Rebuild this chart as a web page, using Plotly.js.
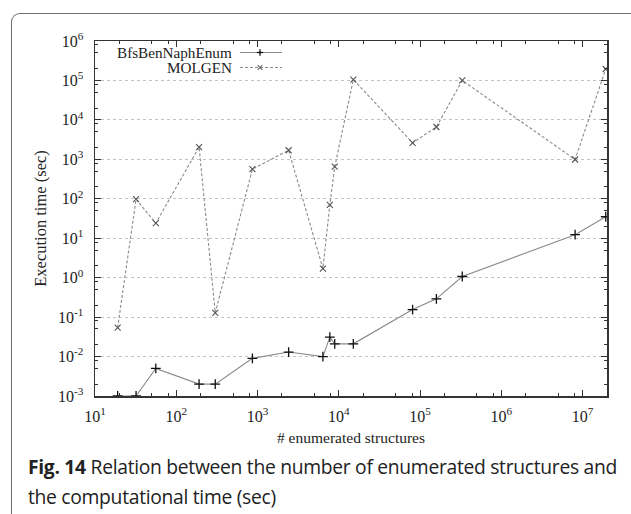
<!DOCTYPE html>
<html>
<head>
<meta charset="utf-8">
<script src="https://cdn.plot.ly/plotly-3.0.1.min.js"></script>
<style>
  html, body { margin:0; padding:0; background:#fff; overflow:hidden; }
  #wrap { position:relative; width:631px; height:514px; }
  #plot { position:absolute; left:0; top:0; width:631px; height:514px; }
  #frame { position:absolute; left:11px; top:13px; width:700px; height:600px;
           border-left:1.6px solid #6e6e6e; border-top:1.6px solid #6e6e6e;
           border-top-left-radius:9px; pointer-events:none; }
  #caption { position:absolute; left:28px; top:452px; width:610px;
             font-family:"Open Sans","Noto Sans",sans-serif; font-size:19.3px;
             line-height:30px; color:#222; letter-spacing:-0.3px; white-space:nowrap; }
  #caption b { font-weight:700; }
</style>
</head>
<body>
<div id="wrap">
  <div id="plot"></div>
  <div id="frame"></div>
  <div id="caption"><b>Fig. 14</b> Relation between the number of enumerated structures and<br>the computational time (sec)</div>
</div>
<script>
// ---- data ----
const structures = [19, 32, 56, 191, 302, 865, 2415, 6380, 7760, 8920, 15100, 81000, 159000, 331000, 8100000, 19300000];
const bfsTime    = [0.001, 0.001, 0.005, 0.002, 0.002, 0.009, 0.013, 0.010, 0.031, 0.021, 0.021, 0.155, 0.29, 1.07, 12.3, 35];
const molgenTime = [0.054, 98, 24, 2050, 0.128, 565, 1700, 1.7, 70, 650, 105000, 2630, 6600, 100000, 990, 195000];
const seriesNames = ["BfsBenNaphEnum", "MOLGEN"];
const xTickVals = [1e1, 1e2, 1e3, 1e4, 1e5, 1e6, 1e7];
const xTickText = ["10<sup>1</sup>", "10<sup>2</sup>", "10<sup>3</sup>", "10<sup>4</sup>", "10<sup>5</sup>", "10<sup>6</sup>", "10<sup>7</sup>"];
const yTickVals = [1e-3, 1e-2, 1e-1, 1e0, 1e1, 1e2, 1e3, 1e4, 1e5, 1e6];
const yTickText = ["10<sup>-3</sup>", "10<sup>-2</sup>", "10<sup>-1</sup>", "10<sup>0</sup>", "10<sup>1</sup>", "10<sup>2</sup>", "10<sup>3</sup>", "10<sup>4</sup>", "10<sup>5</sup>", "10<sup>6</sup>"];
const xTitle = "# enumerated structures";
const yTitle = "Execution time (sec)";

// minor tick positions (2, 5, 8 of each decade)
function minorVals(lo, hi) {
  const out = [];
  for (let e = lo; e < hi; e++) for (const m of [2, 5, 8]) out.push(m * Math.pow(10, e));
  return out;
}

const serif = "Liberation Serif, Times New Roman, serif";

const traces = [
  { x: structures, y: bfsTime, name: seriesNames[0], type: "scatter", mode: "lines+markers",
    line: { color: "#8a8a8a", width: 1.1 },
    marker: { symbol: "cross-thin", size: 7, color: "#111", line: { color: "#111", width: 1.3 } },
    showlegend: false },
  { x: structures, y: molgenTime, name: seriesNames[1], type: "scatter", mode: "lines+markers",
    line: { color: "#8a8a8a", width: 1.1, dash: "3px,2px" },
    marker: { symbol: "x-thin", size: 6, color: "#555", line: { color: "#555", width: 1.1 } },
    showlegend: false }
];

// plot area in pixels
const L = 95, R = 607, T = 41, B = 396;
const px2x = p => (p - L) / (R - L);
const px2y = p => (B - p) / (B - T);

// hand-drawn gnuplot-style legend (key): text right-aligned, sample to the right
const keyRows = [
  { name: seriesNames[0], py: 52.5, dash: "solid", sym: "plus",  col: "#111" },
  { name: seriesNames[1], py: 67.5, dash: "dot",   sym: "cross", col: "#666" }
];
const shapes = [];
const annotations = [];
keyRows.forEach(r => {
  annotations.push({ xref: "paper", yref: "paper", x: px2x(233), y: px2y(r.py), xanchor: "right", yanchor: "middle",
    text: r.name, showarrow: false, borderpad: 0, font: { family: serif, size: 15.2, color: "#222" } });
  shapes.push({ type: "line", xref: "paper", yref: "paper", x0: px2x(240), x1: px2x(282), y0: px2y(r.py), y1: px2y(r.py),
    line: { color: "#8a8a8a", width: 1.1, dash: r.dash === "solid" ? "solid" : "3px,2px" } });
  const cx = 260, cy = r.py, h = 3.2;
  if (r.sym === "plus") {
    shapes.push({ type: "line", xref: "paper", yref: "paper", x0: px2x(cx - h), x1: px2x(cx + h), y0: px2y(cy), y1: px2y(cy), line: { color: r.col, width: 1.3 } });
    shapes.push({ type: "line", xref: "paper", yref: "paper", x0: px2x(cx), x1: px2x(cx), y0: px2y(cy - h), y1: px2y(cy + h), line: { color: r.col, width: 1.3 } });
  } else {
    const d = 2.4;
    shapes.push({ type: "line", xref: "paper", yref: "paper", x0: px2x(cx - d), x1: px2x(cx + d), y0: px2y(cy - d), y1: px2y(cy + d), line: { color: r.col, width: 1.1 } });
    shapes.push({ type: "line", xref: "paper", yref: "paper", x0: px2x(cx - d), x1: px2x(cx + d), y0: px2y(cy + d), y1: px2y(cy - d), line: { color: r.col, width: 1.1 } });
  }
});

const axisCommon = {
  type: "log", showline: true, linecolor: "#333", linewidth: 1.5, mirror: "ticks",
  ticks: "inside", ticklen: 6, tickwidth: 1, tickcolor: "#333",
  tickmode: "array", zeroline: false,
  tickfont: { family: serif, size: 16, color: "#222" }
};

const layout = {
  width: 631, height: 514,
  margin: { l: L, r: 631 - R, t: T, b: 514 - B, pad: 0 },
  paper_bgcolor: "#fff", plot_bgcolor: "#fff",
  showlegend: false,
  xaxis: Object.assign({}, axisCommon, {
    range: [1, Math.log10(2e7)],
    tickvals: xTickVals, ticktext: xTickText,
    showgrid: false,
    ticklabelstandoff: 5,
    minor: { tickmode: "array", tickvals: minorVals(1, 8), ticks: "inside", ticklen: 3, tickcolor: "#333", showgrid: false },
    title: { text: xTitle, font: { family: serif, size: 15.5, color: "#222" }, standoff: 8 }
  }),
  yaxis: Object.assign({}, axisCommon, {
    range: [-3, 6],
    tickvals: yTickVals, ticktext: yTickText,
    showgrid: true, gridcolor: "#c4c4c4", gridwidth: 1, griddash: "dot",
    ticklabelstandoff: 7,
    minor: { tickmode: "array", tickvals: minorVals(-3, 6), ticks: "inside", ticklen: 3, tickcolor: "#333", showgrid: false },
    title: { text: yTitle, font: { family: serif, size: 16.5, color: "#222" }, standoff: 7 }
  }),
  shapes: shapes,
  annotations: annotations
};

Plotly.newPlot("plot", traces, layout, { displayModeBar: false, staticPlot: true });
</script>
</body>
</html>
